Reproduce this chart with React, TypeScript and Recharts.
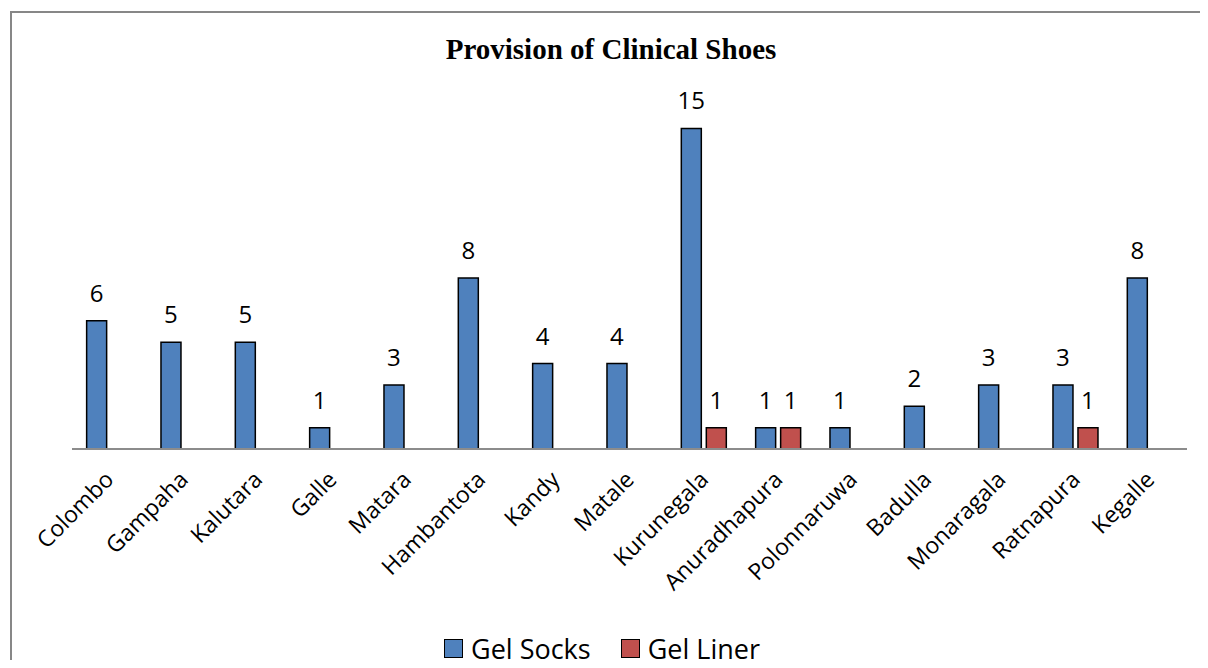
import { BarChart, Bar, XAxis, YAxis, LabelList } from 'recharts';

const districts = [
  'Colombo', 'Gampaha', 'Kalutara', 'Galle', 'Matara', 'Hambantota', 'Kandy', 'Matale',
  'Kurunegala', 'Anuradhapura', 'Polonnaruwa', 'Badulla', 'Monaragala', 'Ratnapura', 'Kegalle',
];
const gelSocks = [6, 5, 5, 1, 3, 8, 4, 4, 15, 1, 1, 2, 3, 3, 8];
const gelLiner = [0, 0, 0, 0, 0, 0, 0, 0, 1, 1, 0, 0, 0, 1, 0];

const SOCKS = '#4F81BD';
const LINER = '#C0504D';
const FONT = '"Open Sans", Calibri, sans-serif';

const data = districts.map((name, i) => ({
  name,
  socks: gelSocks[i],
  liner: gelLiner[i],
}));

// label above the bar, skipped when the value is zero
const ValueLabel = (props: any) => {
  const { x, y, width, value } = props;
  if (!value) return null;
  return (
    <text
      x={x + width / 2}
      y={y - 19}
      textAnchor="middle"
      fontFamily={FONT}
      fontSize={24}
      fill="#000"
    >
      {value}
    </text>
  );
};

const DistrictTick = (props: any) => {
  const { x, y, payload } = props;
  const ax = x + 6;
  const ay = y + 24;
  return (
    <text
      x={ax}
      y={ay}
      transform={`rotate(-45, ${ax}, ${ay})`}
      textAnchor="end"
      fontFamily={FONT}
      fontSize={23}
      fill="#000"
    >
      {payload.value}
    </text>
  );
};

export default function App() {
  // negative margin cancels the body margin so the chart fills the page exactly
  return (
    <div style={{ position: 'relative', margin: -8, width: 1208, height: 668, overflow: 'hidden', background: '#fff' }}>
      <style>{'html, body { overflow: hidden; }'}</style>
      {/* chart frame: only the top and left edges are in view */}
      <div style={{ position: 'absolute', left: 10, top: 11, width: 1198, height: 2, background: '#878787' }} />
      <div style={{ position: 'absolute', left: 10, top: 11, width: 2, height: 657, background: '#878787' }} />
      <div
        style={{
          position: 'absolute',
          top: 33,
          left: 0,
          width: 1222,
          textAlign: 'center',
          fontFamily: '"Liberation Serif", "Times New Roman", serif',
          fontWeight: 'bold',
          fontSize: 29,
        }}
      >
        Provision of Clinical Shoes
      </div>
      <div style={{ position: 'absolute', top: 0, left: 0 }}>
        <BarChart
          width={1208}
          height={668}
          data={data}
          margin={{ top: 107, right: 21, left: 72, bottom: 69 }}
          barCategoryGap="19.7%"
          barGap={5}
        >
          <XAxis
            dataKey="name"
            height={150}
            interval={0}
            tickLine={false}
            axisLine={{ stroke: '#8c8c8c', strokeWidth: 2 }}
            tick={<DistrictTick />}
          />
          <YAxis hide domain={[0, 16]} />
          <Bar dataKey="socks" name="Gel Socks" fill={SOCKS} stroke="#000" strokeWidth={1.5} isAnimationActive={false}>
            <LabelList dataKey="socks" content={<ValueLabel />} />
          </Bar>
          <Bar dataKey="liner" name="Gel Liner" fill={LINER} stroke="#000" strokeWidth={1.5} isAnimationActive={false}>
            <LabelList dataKey="liner" content={<ValueLabel />} />
          </Bar>
        </BarChart>
      </div>
      <div
        style={{
          position: 'absolute',
          top: 628,
          left: 0,
          width: 1204,
          height: 40,
          display: 'flex',
          justifyContent: 'center',
          alignItems: 'center',
          gap: 30,
          fontFamily: FONT,
          fontSize: 27,
        }}
      >
        {[
          { label: 'Gel Socks', color: SOCKS },
          { label: 'Gel Liner', color: LINER },
        ].map((item) => (
          <div key={item.label} style={{ display: 'flex', alignItems: 'center', gap: 8 }}>
            <span
              style={{
                display: 'inline-block',
                width: 17,
                height: 17,
                background: item.color,
                border: '1.5px solid #000',
              }}
            />
            <span>{item.label}</span>
          </div>
        ))}
      </div>
    </div>
  );
}
